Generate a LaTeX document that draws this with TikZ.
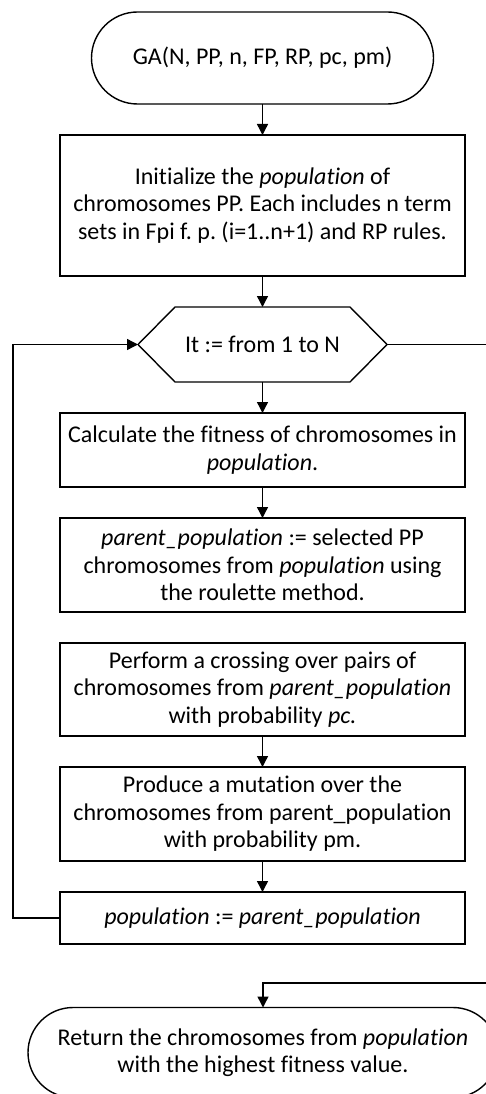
\documentclass[tikz,border=0pt]{standalone}
\usepackage{fontspec}
\setmainfont[Ligatures={NoCommon}]{Carlito}
\frenchspacing
\usetikzlibrary{shapes.misc,arrows.meta}
\begin{document}
\begin{tikzpicture}[x=1pt,y=-1pt,
  every node/.style={font=\fontsize{24}{27.5}\selectfont, align=center, inner sep=0pt, outer sep=0pt},
  box/.style={draw, line width=1.4pt, rectangle, minimum width=405pt},
  term/.style={draw, line width=1.4pt, rounded rectangle},
  conn/.style={line width=1.4pt},
  arr/.style={conn, -{Triangle[length=11pt,width=11pt]}}]
\useasboundingbox (0,0) rectangle (486,1094);
\clip (0,0) rectangle (486,1094);

\node[term, minimum width=342pt, minimum height=92pt] (start) at (262.5,58) {GA(N, PP, n, FP, RP, pc, pm)};
\node[box, minimum height=141pt] (init) at (262.5,205.5) {Initialize the \textit{population} of\\chromosomes PP. Each includes n term\\sets in Fpi f. p. (i=1..n+1) and RP rules.};
\node[minimum width=249pt, minimum height=75pt] (loop) at (262.5,344.5) {It := from 1 to N};
\draw[conn] (loop.west) -- ([xshift=37pt]loop.north west) -- ([xshift=-37pt]loop.north east) -- (loop.east) -- ([xshift=-37pt]loop.south east) -- ([xshift=37pt]loop.south west) -- cycle;
\node[box, minimum height=74pt] (calc) at (262.5,450) {Calculate the fitness of chromosomes in\\\textit{population}.};
\node[box, minimum height=94pt] (parent) at (262.5,565) {\textit{parent\_population} := selected PP\\chromosomes from \textit{population} using\\the roulette method.};
\node[box, minimum height=93pt] (perform) at (262.5,689.5) {Perform a crossing over pairs of\\chromosomes from \textit{parent\_population}\\with probability \textit{pc.}};
\node[box, minimum height=94pt] (produce) at (262.5,814) {Produce a mutation over the\\chromosomes from parent\_population\\with probability pm.};
\node[box, minimum height=52pt] (pop) at (262.5,918) {\textit{population} := \textit{parent\_population}};
\node[term, minimum width=470pt, minimum height=90pt] (final) at (263,1052.5) {Return the chromosomes from \textit{population}\\with the highest fitness value.};

\coordinate (lt) at (13,918);
\coordinate (lb) at (13,344.5);
\coordinate (rt) at (492,344.5);
\coordinate (rb) at (492,983);
\coordinate (fb) at (263,983);

\draw[arr] (start) -- (init);
\draw[arr] (init) -- (loop.north);
\draw[arr] (loop.south) -- (calc);
\draw[arr] (calc) -- (parent);
\draw[arr] (perform) -- (produce);
\draw[arr] (produce) -- (pop);
\draw[arr] (pop.west) -- (lt) -- (lb) -- (loop.west);
\draw[arr] (loop.east) -- (rt) -- (rb) -- (fb) -- (final.north);
\end{tikzpicture}
\end{document}
